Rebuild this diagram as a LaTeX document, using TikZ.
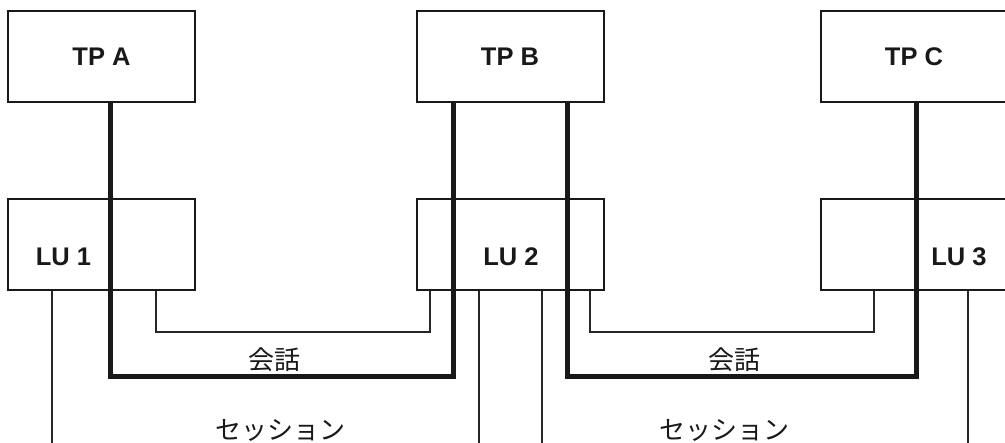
\documentclass[tikz,border=0pt]{standalone}
\usepackage{fontspec}
\setmainfont{Liberation Sans}
\newfontfamily\jpfont{Noto Sans CJK JP}
\begin{document}
\begin{tikzpicture}[x=1pt,y=-1pt,
  box/.style={draw=black!90,line width=2pt,minimum width=187pt,minimum height=91pt,inner sep=0pt,fill=none},
  lbl/.style={font=\fontsize{25.5}{25.5}\selectfont\bfseries,text=black!90,inner sep=0pt},
  jp/.style={font=\jpfont\fontsize{26}{26}\selectfont,text=black!90,inner sep=0pt},
  thickline/.style={line width=5pt,draw=black!90},
  thinline/.style={line width=1.8pt,draw=black!85}]
\useasboundingbox (0,0) rectangle (1005,443);
% top boxes
\node[box] (tpA) at (101.5,56.5) {};
\node[box] (tpB) at (510,56.5) {};
\node[box] (tpC) at (914,56.5) {};
\node[lbl] (tA) at (101.5,57) {TP A};
\node[lbl] (tB) at (510,57) {TP B};
\node[lbl] (tC) at (914,57) {TP C};
% LU boxes
\node[box] (lu1) at (101.5,245) {};
\node[box] (lu2) at (510,245) {};
\node[box] (lu3) at (914,245) {};
\node[lbl] (l1) at (63.5,257) {LU 1};
\node[lbl] (l2) at (511,257) {LU 2};
\node[lbl] (l3) at (959,257) {LU 3};
% coordinates
\coordinate (c1) at (110,377);
\coordinate (c2) at (453,377);
\coordinate (c3) at (567,377);
\coordinate (c4) at (916,377);
\coordinate (d1) at (156,332);
\coordinate (d2) at (430,332);
\coordinate (d3) at (590,332);
\coordinate (d4) at (874,332);
\coordinate (s1) at (52,443);
\coordinate (s2) at (479,443);
\coordinate (s3) at (542,443);
\coordinate (s4) at (968,443);
% thick conversation paths
\draw[thickline,line join=miter] (tpA.south -| c1) -- (c1) -- (c2) -- (tpB.south -| c2);
\draw[thickline,line join=miter] (tpB.south -| c3) -- (c3) -- (c4) -- (tpC.south -| c4);
% thin inner paths
\draw[thinline,line join=miter] (lu1.south -| d1) -- (d1) -- (d2) -- (lu2.south -| d2);
\draw[thinline,line join=miter] (lu2.south -| d3) -- (d3) -- (d4) -- (lu3.south -| d4);
% session lines
\draw[thinline] (lu1.south -| s1) -- (s1);
\draw[thinline] (lu2.south -| s2) -- (s2);
\draw[thinline] (lu2.south -| s3) -- (s3);
\draw[thinline] (lu3.south -| s4) -- (s4);
% labels
\node[jp] (k1) at (274,359.5) {会話};
\node[jp] (k2) at (734.5,359.5) {会話};
\node[jp] (se1) at (280,430) {セッション};
\node[jp] (se2) at (724,430) {セッション};
\end{tikzpicture}
\end{document}
